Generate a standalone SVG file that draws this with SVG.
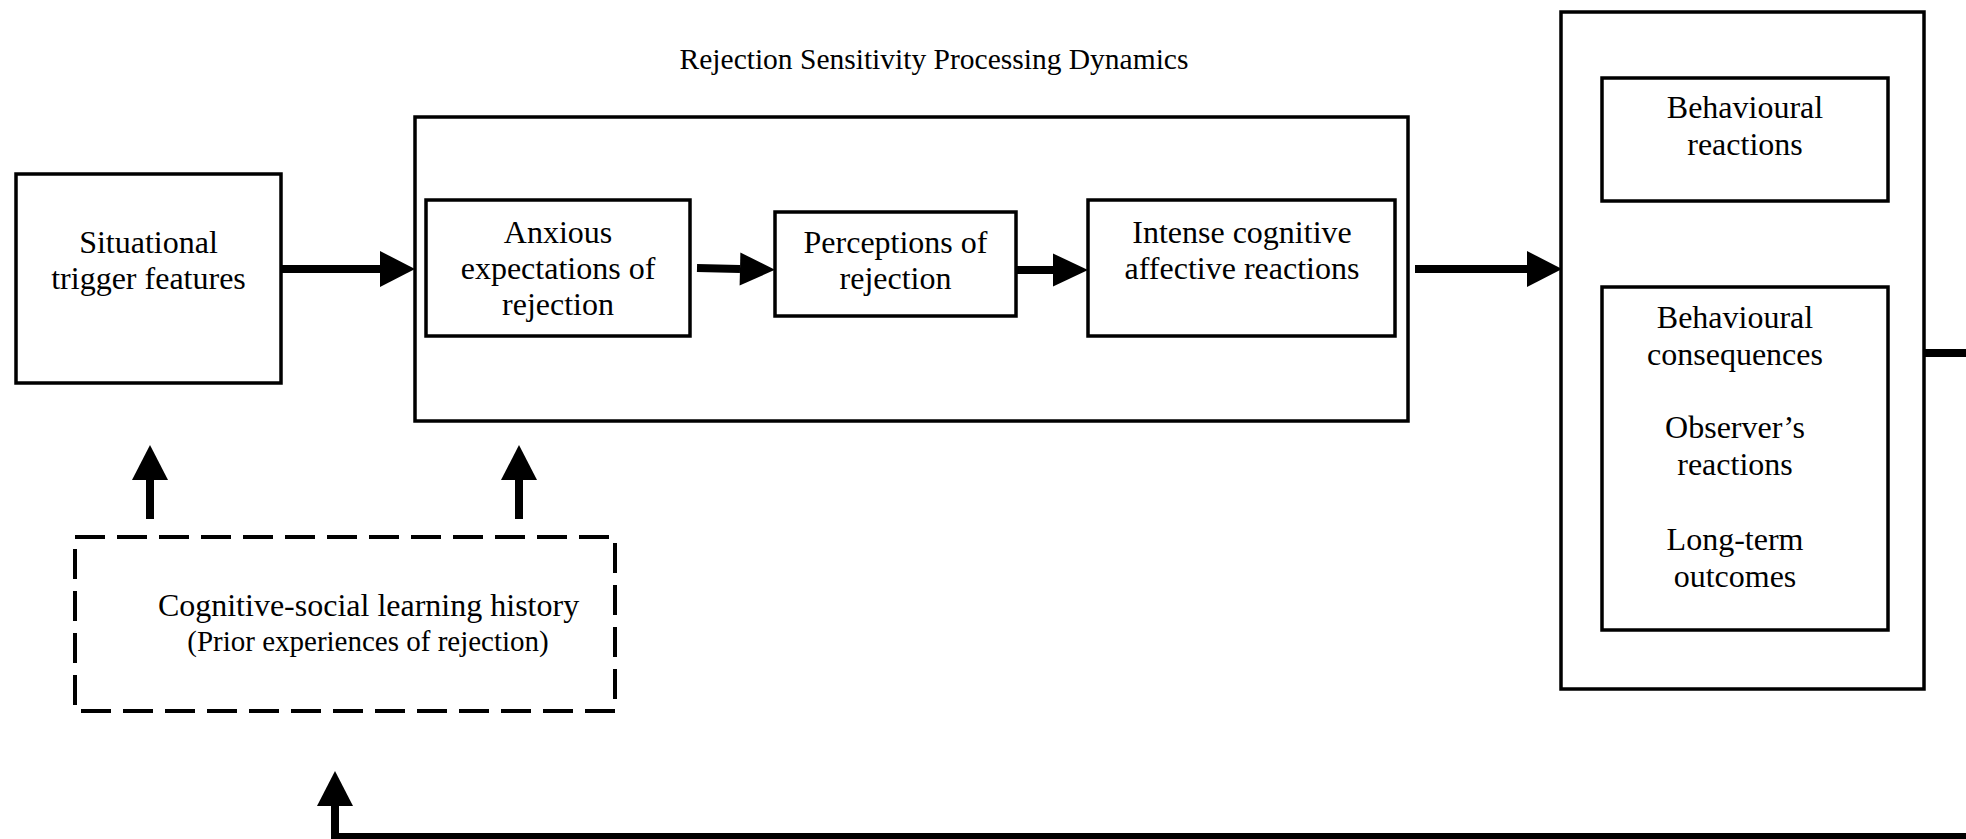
<svg xmlns="http://www.w3.org/2000/svg" width="1966" height="839" viewBox="0 0 1966 839">
  <style>
    .box { fill: #ffffff; stroke: #000000; stroke-width: 3.5; }
    .dash { fill: none; stroke: #000000; stroke-width: 4; stroke-dasharray: 30 12; }
    .t { font-family: "Liberation Serif", "Times New Roman", serif; font-size: 32px; fill: #000000; text-anchor: middle; }
    .s { font-family: "Liberation Serif", "Times New Roman", serif; font-size: 29px; fill: #000000; text-anchor: middle; }
    .conn { fill: none; stroke: #000000; stroke-width: 8; }
  </style>
  <defs>
    <marker id="headL" markerUnits="userSpaceOnUse" markerWidth="36" markerHeight="38" refX="0" refY="18" orient="auto" overflow="visible">
      <path d="M0,0 L35,18 L0,36 Z" fill="#000000"/>
    </marker>
    <marker id="headS" markerUnits="userSpaceOnUse" markerWidth="36" markerHeight="34" refX="0" refY="16.5" orient="auto" overflow="visible">
      <path d="M0,0 L35,16.5 L0,33 Z" fill="#000000"/>
    </marker>
  </defs>
  <rect width="1966" height="839" fill="#ffffff"/>

  <text id="title" class="s" x="934" y="69" style="font-size:29.5px">Rejection Sensitivity Processing Dynamics</text>

  <g id="situational">
    <rect class="box" x="16" y="174" width="265" height="209"/>
    <text class="t" x="148.5" y="253">Situational</text>
    <text class="t" x="148.5" y="289">trigger features</text>
  </g>

  <g id="processing">
    <rect class="box" x="415" y="117" width="993" height="304"/>
  </g>

  <g id="anxious">
    <rect class="box" x="426" y="200" width="264" height="136"/>
    <text class="t" x="558" y="243">Anxious</text>
    <text class="t" x="558" y="279">expectations of</text>
    <text class="t" x="558" y="315">rejection</text>
  </g>

  <g id="perceptions">
    <rect class="box" x="775" y="212" width="241" height="104"/>
    <text class="t" x="895.5" y="253">Perceptions of</text>
    <text class="t" x="895.5" y="289">rejection</text>
  </g>

  <g id="intense">
    <rect class="box" x="1088" y="200" width="307" height="136"/>
    <text class="t" x="1242" y="243">Intense cognitive</text>
    <text class="t" x="1242" y="279">affective reactions</text>
  </g>

  <g id="outcomes">
    <rect class="box" x="1561" y="12" width="363" height="677"/>
  </g>

  <g id="behavioural-reactions">
    <rect class="box" x="1602" y="78" width="286" height="123"/>
    <text class="t" x="1745" y="118">Behavioural</text>
    <text class="t" x="1745" y="155">reactions</text>
  </g>

  <g id="behavioural-consequences">
    <rect class="box" x="1602" y="287" width="286" height="343"/>
    <text class="t" x="1735" y="328">Behavioural</text>
    <text class="t" x="1735" y="365">consequences</text>
    <text class="t" x="1735" y="438">Observer’s</text>
    <text class="t" x="1735" y="475">reactions</text>
    <text class="t" x="1735" y="550">Long-term</text>
    <text class="t" x="1735" y="587">outcomes</text>
  </g>

  <g id="learning-history">
    <rect class="dash" x="75" y="537" width="540" height="174"/>
    <text class="t" x="368.5" y="616">Cognitive-social learning history</text>
    <text class="s" x="368" y="651">(Prior experiences of rejection)</text>
  </g>

  <g id="connectors">
    <line class="conn" x1="282" y1="269" x2="380" y2="269" marker-end="url(#headL)"/>
    <line class="conn" x1="697" y1="268" x2="740" y2="269" marker-end="url(#headS)"/>
    <line class="conn" x1="1016" y1="270" x2="1053" y2="270" marker-end="url(#headS)"/>
    <line class="conn" x1="1415" y1="269" x2="1527" y2="269" marker-end="url(#headL)"/>
    <line class="conn" x1="150" y1="519" x2="150" y2="480" marker-end="url(#headL)"/>
    <line class="conn" x1="519" y1="519" x2="519" y2="480" marker-end="url(#headL)"/>
    <path class="conn" d="M1924,353 H1985 V837 H335 V806" marker-end="url(#headL)"/>
  </g>
</svg>
